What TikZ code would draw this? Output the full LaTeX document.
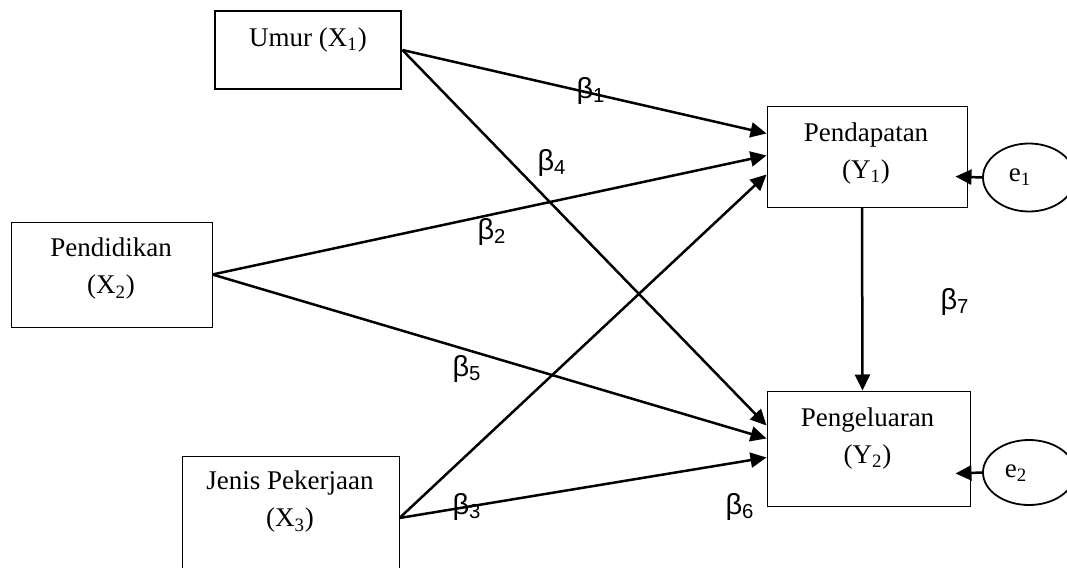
\documentclass[tikz,border=0pt]{standalone}
\usepackage{fontspec}
\usepackage{tikz}
\setmainfont{Liberation Serif}
\newfontfamily\betafont{Liberation Sans}
\usetikzlibrary{calc,arrows.meta,shapes.geometric}

\newcommand{\bet}[1]{{\betafont β\textsubscript{#1}}}

\tikzset{
  box/.style={draw,line width=0.5pt,inner sep=0pt},
  err/.style={draw,ellipse,line width=0.9pt,inner sep=0pt,minimum width=46pt,minimum height=34pt},
  txt/.style={align=center,inner sep=0pt,font=\fontsize{13.5}{18.5}\selectfont},
  coef/.style={inner sep=0pt,font=\fontsize{14.5}{16}\selectfont},
  arr/.style={line width=1.25pt,-{Triangle[length=8pt,width=7.5pt]}}
}

\begin{document}
\begin{tikzpicture}[x=0.5pt,y=-0.5pt]
  \useasboundingbox (0,0) rectangle (1067,568);

  %boxes
  \node[box,line width=1.4pt,minimum width=93pt,minimum height=39pt] (x1) at (308,50) {};
  \node[box,minimum width=100.5pt,minimum height=52.5pt] (x2) at (111.5,274.5) {};
  \node[box,minimum width=108.5pt,minimum height=62pt] (x3) at (290.5,518) {};
  \node[box,minimum width=100pt,minimum height=50.5pt] (y1) at (867,156.5) {};
  \node[box,minimum width=101.5pt,minimum height=57.5pt] (y2) at (868.5,448.5) {};
  \node[err] (e1) at (1029,177.5) {};
  \node[err,minimum height=32.5pt] (e2) at (1029,472.5) {};

  %texts
  \node[txt] (tx1) at (308,40) {Umur (X\textsubscript{1})};
  \node[txt] (tx2) at (111,269) {Pendidikan\\(X\textsubscript{2})};
  \node[txt] (tx3) at (290,502) {Jenis Pekerjaan\\(X\textsubscript{3})};
  \node[txt] (ty1) at (866,153.5) {Pendapatan\\(Y\textsubscript{1})};
  \node[txt] (ty2) at (867.5,438.5) {Pengeluaran\\(Y\textsubscript{2})};
  \node[txt] (te1) at (1020,177) {e\textsubscript{1}};
  \node[txt] (te2) at (1016,473) {e\textsubscript{2}};

  %arrows
  \draw[arr] (x1.east) -- ($(y1.west)+(0,-23)$);
  \draw[arr] (x1.east) -- ($(y2.west)+(0,-23)$);
  \draw[arr] (x2.east) -- ($(y1.west)+(0,-1)$);
  \draw[arr] (x2.east) -- ($(y2.west)+(0,-10)$);
  \draw[arr] (x3.east) -- ($(y1.west)+(0,18)$);
  \draw[arr] (x3.east) -- ($(y2.west)+(0,9)$);
  \draw[arr] ($(y1.south)+(-5,0)$) -- ($(y2.north)+(-6,0)$);
  \draw[arr] (e1.west) -- ($(y1.east)+(-12,20)$);
  \draw[arr] (e2.west) -- ($(y2.east)+(-15,25)$);

  %betas
  \node[coef] (b1) at (591,91) {\bet{1}};
  \node[coef] (b4) at (552,163) {\bet{4}};
  \node[coef] (b2) at (492,232) {\bet{2}};
  \node[coef] (b5) at (467,369) {\bet{5}};
  \node[coef] (b3) at (467,507) {\bet{3}};
  \node[coef] (b6) at (740,507) {\bet{6}};
  \node[coef] (b7) at (955,302) {\bet{7}};
\end{tikzpicture}
\end{document}
